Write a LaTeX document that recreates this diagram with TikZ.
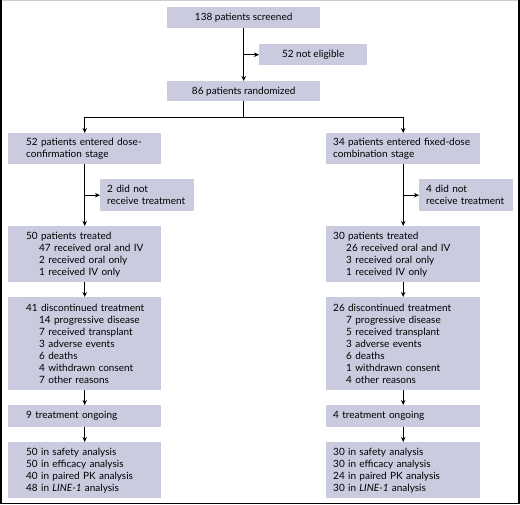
\documentclass[tikz,border=0pt]{standalone}
\usepackage{fontspec}
\setmainfont{Lato}
\usetikzlibrary{arrows.meta}
\definecolor{boxfill}{RGB}{203,203,224}
\tikzset{
  box/.style={fill=boxfill, draw=none, anchor=north west, inner ysep=0pt,
    font=\fontsize{10}{12}\selectfont},
  cbox/.style={box, align=center},
  lbox/.style={box, align=left, inner xsep=0pt},
  arr/.style={-{Stealth[length=5pt,width=4.5pt]}, line width=0.9pt},
  ln/.style={line width=0.9pt}
}
\newcommand{\ind}{\hspace*{13pt}}
\begin{document}
\begin{tikzpicture}[x=1pt,y=1pt]
\useasboundingbox (0,0) rectangle (520,-505);
% frame
\draw[gray!40, line width=1pt] (0,-0.5) -- (520,-0.5);
\draw[black, line width=1.6pt] (0.8,0) -- (0.8,-503.6) -- (519.2,-503.6) -- (519.2,0);
% top boxes
\node[cbox, minimum width=153pt, minimum height=21pt] (screen) at (167,-7) {138 patients screened};
\node[cbox, minimum width=108pt, minimum height=21pt] (notelig) at (259,-44) {52 not eligible};
\node[cbox, minimum width=153pt, minimum height=20pt] (rand) at (167,-81) {86 patients randomized};
% left column
\node[lbox, minimum width=153pt, minimum height=31pt, text width=153pt] (L1) at (8,-133) {\hspace*{18pt}\parbox[c]{133pt}{52 patients entered dose-\\confirmation stage}};
\node[lbox, minimum width=94pt, minimum height=32pt, text width=94pt] (L2) at (100,-179) {\hspace*{7pt}\parbox[c]{86pt}{2 did not\\receive treatment}};
\node[lbox, minimum width=153pt, minimum height=56pt, text width=153pt] (L3) at (8,-226) {\hspace*{18pt}\parbox[c]{133pt}{50 patients treated\\\ind 47 received oral and IV\\\ind 2 received oral only\\\ind 1 received IV only}};
\node[lbox, minimum width=153pt, minimum height=93pt, text width=153pt] (L4) at (8,-297) {\hspace*{18pt}\parbox[c]{133pt}{41 discontinued treatment\\\ind 14 progressive disease\\\ind 7 received transplant\\\ind 3 adverse events\\\ind 6 deaths\\\ind 4 withdrawn consent\\\ind 7 other reasons}};
\node[lbox, minimum width=153pt, minimum height=22pt, text width=153pt] (L5) at (8,-405) {\hspace*{18pt}\parbox[c]{133pt}{9 treatment ongoing}};
\node[lbox, minimum width=153pt, minimum height=56pt, text width=153pt] (L6) at (8,-442) {\hspace*{18pt}\parbox[c]{133pt}{50 in safety analysis\\50 in efficacy analysis\\40 in paired PK analysis\\48 in \textit{LINE-1} analysis}};
% right column
\node[lbox, minimum width=154pt, minimum height=31pt, text width=154pt] (R1) at (326,-133) {\hspace*{7pt}\parbox[c]{145pt}{34 patients entered fixed-dose\\combination stage}};
\node[lbox, minimum width=94pt, minimum height=32pt, text width=94pt] (R2) at (419,-179) {\hspace*{7pt}\parbox[c]{86pt}{4 did not\\receive treatment}};
\node[lbox, minimum width=154pt, minimum height=56pt, text width=154pt] (R3) at (326,-226) {\hspace*{7pt}\parbox[c]{145pt}{30 patients treated\\\ind 26 received oral and IV\\\ind 3 received oral only\\\ind 1 received IV only}};
\node[lbox, minimum width=154pt, minimum height=93pt, text width=154pt] (R4) at (326,-297) {\hspace*{7pt}\parbox[c]{145pt}{26 discontinued treatment\\\ind 7 progressive disease\\\ind 5 received transplant\\\ind 3 adverse events\\\ind 6 deaths\\\ind 1 withdrawn consent\\\ind 4 other reasons}};
\node[lbox, minimum width=154pt, minimum height=22pt, text width=154pt] (R5) at (326,-405) {\hspace*{7pt}\parbox[c]{145pt}{4 treatment ongoing}};
\node[lbox, minimum width=154pt, minimum height=56pt, text width=154pt] (R6) at (326,-442) {\hspace*{7pt}\parbox[c]{145pt}{30 in safety analysis\\30 in efficacy analysis\\24 in paired PK analysis\\30 in \textit{LINE-1} analysis}};
% connectors
\draw[arr] (screen.south) -- (rand.north);
\draw[arr] (screen.south |- notelig.west) -- (notelig.west);
\draw[ln] (rand.south) -- ++(0,-16) coordinate (split);
\draw[arr] (split -| L1.north) -- (L1.north);
\draw[arr] (split -| R1.north) -- (R1.north);
\draw[ln] (split -| L1.north) -- (split -| R1.north);
\draw[arr] (L1.south) -- (L3.north);
\draw[arr] (L1.south |- L2.west) -- (L2.west);
\draw[arr] (L3.south) -- (L4.north);
\draw[arr] (L4.south) -- (L5.north);
\draw[arr] (L5.south) -- (L6.north);
\draw[arr] (R1.south) -- (R3.north);
\draw[arr] (R1.south |- R2.west) -- (R2.west);
\draw[arr] (R3.south) -- (R4.north);
\draw[arr] (R4.south) -- (R5.north);
\draw[arr] (R5.south) -- (R6.north);
\end{tikzpicture}
\end{document}
